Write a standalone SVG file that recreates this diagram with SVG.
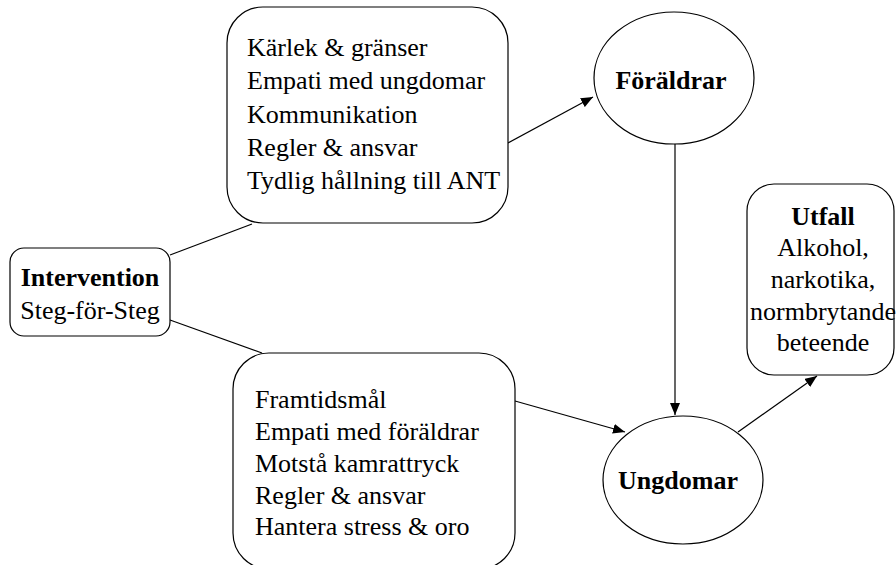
<svg xmlns="http://www.w3.org/2000/svg" width="896" height="565" viewBox="0 0 896 565">
<style>
.box{fill:#fff;stroke:#000;stroke-width:1.2}
.t{font-family:"Liberation Serif","Times New Roman",serif;font-size:26px;fill:#000}
.b{font-weight:bold}
.c{text-anchor:middle}
.ln{stroke:#000;stroke-width:1.2;fill:none}
</style>
<defs>
<marker id="ah" viewBox="0 0 12 10" refX="12" refY="5" markerWidth="12" markerHeight="10" markerUnits="userSpaceOnUse" orient="auto">
<path d="M0,0 L12,5 L0,10 Z" fill="#000"/>
</marker>
</defs>
<rect width="896" height="565" fill="#fff"/>
<g id="connectors">
<line class="ln" x1="170" y1="255" x2="252" y2="224"/>
<line class="ln" x1="170" y1="320" x2="262" y2="353"/>
<line class="ln" x1="508" y1="143" x2="593" y2="97" marker-end="url(#ah)"/>
<line class="ln" x1="675" y1="144" x2="675" y2="415" marker-end="url(#ah)"/>
<line class="ln" x1="515" y1="401" x2="625" y2="432" marker-end="url(#ah)"/>
<line class="ln" x1="738" y1="432" x2="817" y2="376" marker-end="url(#ah)"/>
</g>
<g id="intervention">
<rect class="box" x="10" y="248" width="160" height="88" rx="14"/>
<text class="t b c" x="90" y="286">Intervention</text>
<text class="t c" x="90" y="319">Steg-för-Steg</text>
</g>
<g id="parent-components">
<rect class="box" x="227" y="7" width="281" height="216" rx="36"/>
<text class="t" x="247" y="56">Kärlek &amp; gränser</text>
<text class="t" x="247" y="89">Empati med ungdomar</text>
<text class="t" x="247" y="123">Kommunikation</text>
<text class="t" x="247" y="156">Regler &amp; ansvar</text>
<text class="t" x="247" y="189">Tydlig hållning till ANT</text>
</g>
<g id="youth-components">
<rect class="box" x="233" y="353" width="282" height="216" rx="36"/>
<text class="t" x="255" y="408">Framtidsmål</text>
<text class="t" x="255" y="440">Empati med föräldrar</text>
<text class="t" x="255" y="472">Motstå kamrattryck</text>
<text class="t" x="255" y="504">Regler &amp; ansvar</text>
<text class="t" x="255" y="535">Hantera stress &amp; oro</text>
</g>
<g id="foraldrar">
<ellipse class="box" cx="674" cy="78" rx="80" ry="66"/>
<text class="t b c" x="671" y="89">Föräldrar</text>
</g>
<g id="ungdomar">
<ellipse class="box" cx="683" cy="480" rx="80" ry="64"/>
<text class="t b c" x="678" y="489">Ungdomar</text>
</g>
<g id="utfall">
<rect class="box" x="747" y="184" width="147" height="191" rx="27"/>
<text class="t b c" x="823" y="225">Utfall</text>
<text class="t c" x="823" y="256">Alkohol,</text>
<text class="t c" x="823" y="288">narkotika,</text>
<text class="t c" x="823" y="320">normbrytande</text>
<text class="t c" x="823" y="351">beteende</text>
</g>
</svg>
